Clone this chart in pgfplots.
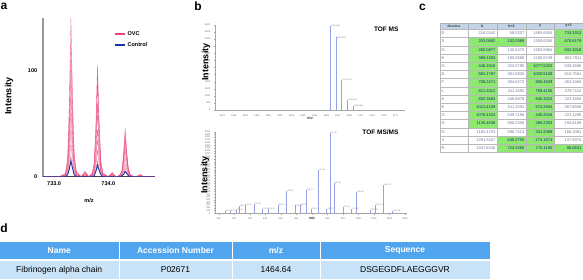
\documentclass[border=0pt]{standalone}
\usepackage{pgfplots}
\pgfplotsset{compat=1.18}
\usepackage{pgfplotstable}
\usepackage{fontspec}
\setmainfont{Liberation Sans}

\definecolor{ovc}{RGB}{232,70,120}
\definecolor{ctrl}{RGB}{25,55,165}
\definecolor{msline}{RGB}{150,160,228}
\definecolor{dhead}{RGB}{80,165,238}
\definecolor{drow}{RGB}{200,227,247}
\definecolor{chead}{RGB}{196,212,232}
\definecolor{cell0}{RGB}{255,255,255}
\definecolor{cell1}{RGB}{140,232,110}
\definecolor{txt0}{RGB}{110,120,150}
\definecolor{txt1}{RGB}{20,40,110}

% panel a: isotopic envelopes (OVC samples r1..r9, control b)
\pgfplotstableread{
x      r1  r2  r3  r4  r5  r6  r7  r8  r9  b
732.80 0   0   0   0   0   0   0   0   0   0
733.10 0   0   0   0   0   0   0   0   0   0
733.21 3   3   2   2   2   1   1   1   0   0
733.25 18  15  13  11  9   7   5   4   2   2
733.28 68  58  50  41  34  27  20  14  9   7
733.31 150 128 110 92  75  60  45  32  20  15
733.34 75  64  55  46  38  30  23  16  10  8
733.37 22  19  17  14  11  9   7   5   3   2
733.41 5   4   3   3   2   2   1   1   1   0
733.50 0   0   0   0   0   0   0   0   0   0
733.57 5   4   3   5   3   2   2   1   1   0
733.64 0   0   0   0   0   0   0   0   0   0
733.70 3   3   3   2   2   1   1   1   0   0
733.74 13  11  12  8   7   5   4   3   2   1
733.77 48  40  43  32  27  20  16  11  7   5
733.80 106 88  96  70  60  45  35  25  15  11
733.83 53  44  48  35  30  23  18  13  8   6
733.86 16  13  14  11  9   7   5   4   2   2
733.90 3   3   3   2   2   1   1   1   0   0
734.00 0   0   0   0   0   0   0   0   0   0
734.07 4   3   4   3   2   2   1   1   1   0
734.14 0   0   0   0   0   0   0   0   0   0
734.21 1   1   1   1   1   1   0   0   0   0
734.25 6   5   5   4   3   4   2   1   1   1
734.28 21  17  19  14  11  16  8   5   4   2
734.31 46  38  42  30  25  36  18  12  8   5
734.34 23  19  21  15  13  18  9   6   4   3
734.37 7   6   6   5   4   5   3   2   1   1
734.41 1   1   1   1   1   1   1   0   0   0
734.50 0   0   0   0   0   0   0   0   0   0
734.59 2   1   2   1   1   1   0   0   0   0
734.66 0   0   0   0   0   0   0   0   0   0
734.85 0   0   0   0   0   0   0   0   0   0
}\tabA

\pgfplotstableread{
x       y    lab
1465.66 5950 1465.6563
1466.66 5120 1466.6590
1467.66 2100 1467.6612
1468.67 720  1468.6641
1469.67 290  1469.6680
}\tabMS

\pgfplotstableread{
x    y    lab
141  80   141.10
173  100  173.12
212  120  212.08
233  265  233.11
270  320  270.15
330  350  330.16
379  175  379.20
418  150  418.19
481  320  481.22
538  820  538.26
592  290  592.28
624  300  624.30
663  850  663.31
695  150  695.33
741  1590 741.35
796  175  796.37
817  2940 817.40
845  1120 845.41
901  235  901.43
957  175  957.46
989  790  989.48
1075 120  1075.51
1107 295  1107.53
1161 1030 1161.55
1217 90   1217.58
}\tabMSMS

\pgfplotsset{
  msstyle/.style={
    scale only axis, clip=false,
    axis x line=bottom, axis y line=left,
    axis line style={-, gray!70, line width=0.3pt},
    tick style={gray!70, line width=0.2pt},
    major tick length=1.2pt, tick align=outside,
    tick label style={font=\fontsize{2.4}{2.6}\selectfont, text=gray!80!black},
    /pgf/number format/assume math mode=true,
    /pgf/number format/1000 sep={},
    ymin=0,
  },
  peakstyle/.style={
    msline, ycomb, line width=0.45pt, mark=none,
    nodes near coords, point meta=explicit symbolic,
    every node near coord/.style={font=\fontsize{2}{2.2}\selectfont, text=gray, anchor=south west, inner sep=0.3pt, xshift=0.2pt, yshift=-1.2pt},
  },
}

\newcommand{\ctab}{\fontsize{4}{4.4}\selectfont}

\begin{document}
\begin{tikzpicture}[x=1pt,y=1pt]
\useasboundingbox (0,0) rectangle (583,279);

% ---------------- panel labels
\node[font=\bfseries\fontsize{12}{13}\selectfont, anchor=center] at (4,273) {a};
\node[font=\bfseries\fontsize{12}{13}\selectfont, anchor=center] at (198,273) {b};
\node[font=\bfseries\fontsize{12}{13}\selectfont, anchor=center] at (422.5,272) {c};
\node[font=\bfseries\fontsize{12}{13}\selectfont, anchor=center] at (4,51) {d};

% ---------------- panel a
\begin{axis}[
  at={(42.7pt,102.3pt)}, anchor=south west,
  scale only axis, width=112.3pt, height=158.5pt,
  xmin=732.79, xmax=734.86, ymin=0, ymax=150,
  axis x line=bottom, axis y line=left,
  x axis line style={-, black!75, line width=0.6pt},
  y axis line style={-, gray!80, line width=1.6pt},
  major tick length=0pt,
  xtick={733,734}, xticklabels={733.0,734.0},
  ytick={0,100},
  tick label style={font=\bfseries\fontsize{5.5}{6}\selectfont},
  /pgf/number format/assume math mode=true,
  xticklabel style={yshift=-1pt},
  yticklabel style={xshift=-2pt},
  legend style={at={(0.63,0.93)}, anchor=north west, draw=none, fill=none,
    font=\bfseries\fontsize{5.5}{6}\selectfont, row sep=1.2pt, inner sep=0pt},
  legend cell align=left,
  legend image code/.code={\draw[#1, line width=2pt, opacity=1] (0pt,0pt) -- (10pt,0pt);},
]
\addplot[ovc, line width=0.35pt, opacity=0.75] table[x=x, y=r1] {\tabA};
\addlegendentry{OVC}
\addplot[ovc, line width=0.35pt, opacity=0.75, forget plot] table[x=x, y=r2] {\tabA};
\addplot[ovc, line width=0.35pt, opacity=0.75, forget plot] table[x=x, y=r3] {\tabA};
\addplot[ovc, line width=0.35pt, opacity=0.75, forget plot] table[x=x, y=r4] {\tabA};
\addplot[ovc, line width=0.35pt, opacity=0.75, forget plot] table[x=x, y=r5] {\tabA};
\addplot[ovc, line width=0.35pt, opacity=0.75, forget plot] table[x=x, y=r6] {\tabA};
\addplot[ovc, line width=0.35pt, opacity=0.75, forget plot] table[x=x, y=r7] {\tabA};
\addplot[ovc, line width=0.35pt, opacity=0.75, forget plot] table[x=x, y=r8] {\tabA};
\addplot[ovc, line width=0.35pt, opacity=0.75, forget plot] table[x=x, y=r9] {\tabA};
\addplot[ctrl, line width=0.9pt] table[x=x, y=b] {\tabA};
\addlegendentry{Control}
\end{axis}
\node[rotate=90, font=\bfseries\fontsize{9}{10}\selectfont] at (9,183) {Intensity};
\node[font=\bfseries\fontsize{5.5}{6}\selectfont] at (89,78.3) {m/z};

% ---------------- panel b top (TOF MS)
\begin{axis}[msstyle,
  at={(215pt,169pt)}, anchor=south west, width=190pt, height=85pt,
  xmin=1445.76, xmax=1478.64, ymax=6000,
  xtick={1447,1449,...,1477}, ytick={0,500,...,6000},
]
\addplot[peakstyle] table[x=x, y=y, meta=lab] {\tabMS};
\end{axis}
\node[rotate=90, font=\bfseries\fontsize{9}{10}\selectfont] at (206,217) {Intensity};
\node[font=\fontsize{3.8}{4}\selectfont] at (310,161) {m/z};
\node[anchor=north east, font=\bfseries\fontsize{6.5}{7}\selectfont] at (402,255.5) {TOF MS};

% ---------------- panel b bottom (TOF MS/MS)
\begin{axis}[msstyle,
  at={(215pt,65.7pt)}, anchor=south west, width=192pt, height=81.6pt,
  xmin=76.8, xmax=1313, ymax=3000,
  xtick={100,200,...,1300}, ytick={0,100,...,3000},
]
\addplot[peakstyle] table[x=x, y=y, meta=lab] {\tabMSMS};
\end{axis}
\node[rotate=90, font=\bfseries\fontsize{9}{10}\selectfont] at (205,104) {Intensity};
\node[font=\fontsize{3.6}{4}\selectfont] at (312,61) {m/z};
\node[anchor=north east, font=\bfseries\fontsize{6.5}{7}\selectfont] at (402,153) {TOF MS/MS};

% ---------------- panel c (fragment table)
\fill[chead] (440,256.3) rectangle (583,249.7);
\draw[gray!60, line width=0.3pt] (440,256.3) rectangle (583,249.7);
\foreach \xb in {468,497,526,554} {\draw[gray!60, line width=0.3pt] (\xb,256.3) -- (\xb,249.7);}
\node[font=\bfseries\fontsize{3.3}{3.6}\selectfont, text=black!80] at (454,253) {Residue};
\node[font=\bfseries\fontsize{3.6}{4}\selectfont, text=black!80] at (482.5,253) {b};
\node[font=\bfseries\fontsize{3.6}{4}\selectfont, text=black!80] at (511.5,253) {b+2};
\node[font=\bfseries\fontsize{3.6}{4}\selectfont, text=black!80] at (540,253) {y};
\node[font=\bfseries\fontsize{3.6}{4}\selectfont, text=black!80] at (568.5,253) {y+2};
\foreach \i/\r/\vb/\vbb/\vy/\vyy/\ga/\gb/\gc/\gd in {
0/D/116.0342/58.5207/1465.6554/733.3313/0/0/0/1,
1/S/203.0662/102.0368/1350.6284/675.8179/1/1/0/1,
2/G/260.0877/130.5475/1263.5964/632.3018/1/0/0/1,
3/E/389.1303/195.0688/1206.5749/603.7911/1/0/0/0,
4/G/446.1518/223.5795/1077.5323/539.2698/1/0/1/0,
5/D/561.1787/281.0930/1020.5109/510.7591/1/0/1/0,
6/F/708.2471/354.6272/905.4839/453.2460/1/0/1/0,
7/L/821.3312/411.1692/758.4155/379.7114/1/0/1/0,
8/A/892.3683/446.6878/645.3315/323.1694/1/0/1/0,
9/E/1021.4109/511.2091/574.2944/287.6508/1/0/1/0,
10/G/1078.4324/539.7198/445.2518/223.1295/1/0/1/0,
11/G/1135.4538/568.2306/388.2303/194.6188/1/0/1/0,
12/G/1192.4753/596.7413/331.2089/166.1081/0/0/1/0,
13/V/1291.5437/646.2755/274.1874/137.5974/0/1/1/0,
14/R/1447.6448/724.3260/175.1190/88.0631/0/1/1/1} {
  \pgfmathsetmacro\yt{249.7-8.2*\i}
  \pgfmathsetmacro\yb{\yt-8.2}
  \pgfmathsetmacro\ym{\yt-4.1}
  \draw[gray!55, line width=0.3pt, fill=white] (440,\yt) rectangle (468,\yb);
  \draw[gray!55, line width=0.3pt, fill=cell\ga] (468,\yt) rectangle (497,\yb);
  \draw[gray!55, line width=0.3pt, fill=cell\gb] (497,\yt) rectangle (526,\yb);
  \draw[gray!55, line width=0.3pt, fill=cell\gc] (526,\yt) rectangle (554,\yb);
  \draw[gray!55, line width=0.3pt, fill=cell\gd] (554,\yt) rectangle (583,\yb);
  \node[anchor=west, font=\ctab, text=txt0, inner sep=0pt] at (441.5,\ym) {\r};
  \node[anchor=east, font=\ctab, text=txt\ga, inner sep=0pt] at (495.5,\ym) {\vb};
  \node[anchor=east, font=\ctab, text=txt\gb, inner sep=0pt] at (524.5,\ym) {\vbb};
  \node[anchor=east, font=\ctab, text=txt\gc, inner sep=0pt] at (552.5,\ym) {\vy};
  \node[anchor=east, font=\ctab, text=txt\gd, inner sep=0pt] at (581.5,\ym) {\vyy};
}

% ---------------- panel d (identification table)
\fill[dhead] (0,37.3) rectangle (118.5,19.7);
\fill[dhead] (119.5,37.3) rectangle (231.5,19.7);
\fill[dhead] (232.5,37.3) rectangle (319.5,19.7);
\fill[dhead] (320.5,37.3) rectangle (489.5,19.7);
\fill[drow] (0,18.3) rectangle (118.5,0);
\fill[drow] (119.5,18.3) rectangle (231.5,0);
\fill[drow] (232.5,18.3) rectangle (319.5,0);
\fill[drow] (320.5,18.3) rectangle (489.5,0);
\begin{scope}[every node/.style={font=\bfseries\fontsize{8.5}{9}\selectfont, text=white}]
\node at (59.25,28.5) {Name};
\node at (175.5,28.5) {Accession Number};
\node at (276,28.5) {m/z};
\node at (405,28.5) {Sequence};
\end{scope}
\begin{scope}[every node/.style={font=\fontsize{8.5}{9}\selectfont, text=black}]
\node at (59.25,9.2) {Fibrinogen alpha chain};
\node at (175.5,9.2) {P02671};
\node at (276,9.2) {1464.64};
\node at (405,9.2) {DSGEGDFLAEGGGVR};
\end{scope}
\end{tikzpicture}
\end{document}
